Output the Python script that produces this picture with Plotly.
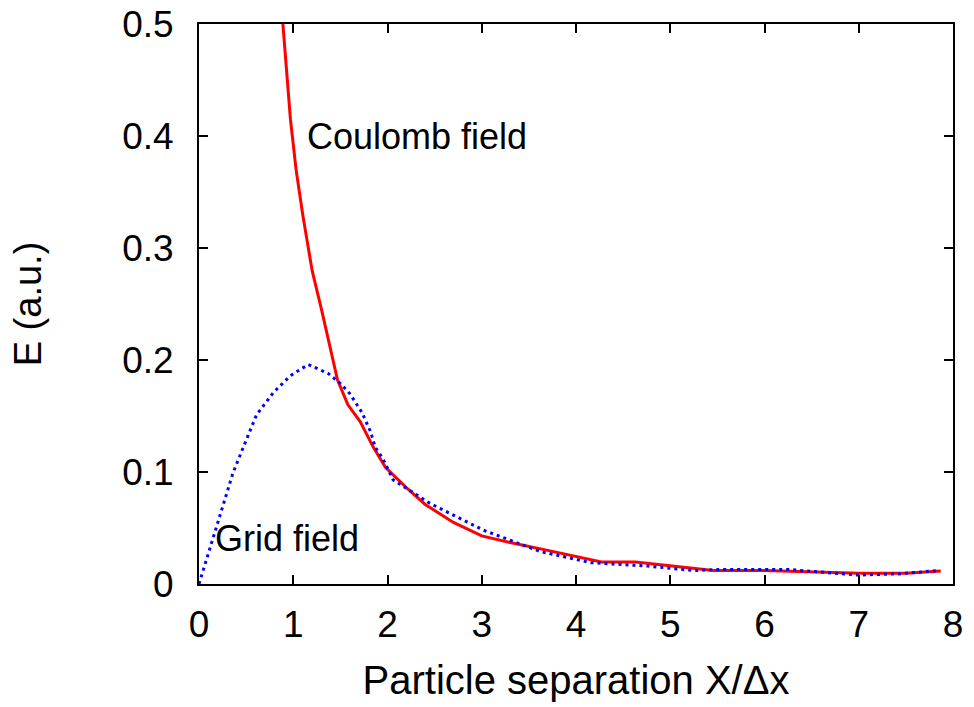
import plotly.graph_objects as go

# Coulomb field (red, solid)
coulomb_x = [0.89, 0.97, 1.03, 1.10, 1.20, 1.30, 1.47, 1.58, 1.71, 1.85, 1.98,
             2.20, 2.40, 2.70, 3.00, 3.30, 3.70, 4.27, 4.63, 5.00, 5.46, 6.00,
             6.50, 7.00, 7.50, 7.87]
coulomb_y = [0.500, 0.415, 0.370, 0.330, 0.280, 0.245, 0.182, 0.160, 0.145, 0.122, 0.104,
             0.086, 0.071, 0.055, 0.043, 0.037, 0.030, 0.0196, 0.0196, 0.016, 0.012, 0.012,
             0.011, 0.0095, 0.0095, 0.0115]

# Grid field (blue, dotted)
grid_x = [0.0, 0.12, 0.24, 0.36, 0.46, 0.61, 0.79, 0.97, 1.16, 1.37, 1.50, 1.60,
          1.73, 1.82, 1.87, 1.95, 2.06, 2.45, 3.02, 3.62, 4.16, 4.76, 5.25, 5.54,
          6.25, 6.99, 7.42, 7.84]
grid_y = [0.0, 0.033, 0.066, 0.099, 0.120, 0.151, 0.171, 0.186, 0.196, 0.188, 0.179, 0.170,
          0.153, 0.136, 0.122, 0.112, 0.093, 0.072, 0.048, 0.029, 0.019, 0.016, 0.012, 0.013,
          0.013, 0.008, 0.009, 0.012]

x_ticks = [0, 1, 2, 3, 4, 5, 6, 7, 8]
y_ticks = [0, 0.1, 0.2, 0.3, 0.4, 0.5]
y_tick_text = ["0", "0.1", "0.2", "0.3", "0.4", "0.5"]

FONT = "Liberation Sans, Arial, sans-serif"

fig = go.Figure()
fig.add_trace(go.Scatter(x=coulomb_x, y=coulomb_y, mode="lines",
                         line=dict(color="#ff0000", width=3), name="Coulomb field",
                         showlegend=False))
fig.add_trace(go.Scatter(x=grid_x, y=grid_y, mode="lines",
                         line=dict(color="#0000ff", width=3, dash="3px,4px"),
                         name="Grid field", showlegend=False))

fig.add_annotation(x=1.12, y=0.4, text="Coulomb field", showarrow=False,
                   xanchor="left", yanchor="middle", font=dict(size=36, color="black", family=FONT))
fig.add_annotation(x=0.15, y=0.041, text="Grid field", showarrow=False,
                   xanchor="left", yanchor="middle", font=dict(size=36, color="black", family=FONT))

axis_common = dict(showgrid=False, zeroline=False, showline=True, linecolor="black",
                   linewidth=2, mirror="allticks", ticks="inside", ticklen=9,
                   tickwidth=1.5, tickcolor="black", automargin=False,
                   tickfont=dict(size=37, color="black", family=FONT))

fig.update_xaxes(range=[0, 8], tickvals=x_ticks, ticktext=[str(t) for t in x_ticks],
                 title=dict(text="Particle separation X/Δx", font=dict(size=40, color="black", family=FONT),
                            standoff=22),
                 ticklabelstandoff=7, **axis_common)
fig.update_yaxes(range=[0, 0.5], tickvals=y_ticks, ticktext=y_tick_text,
                 title=dict(text="E (a.u.)", font=dict(size=38, color="black", family=FONT),
                            standoff=69),
                 ticklabelstandoff=16, **axis_common)

fig.update_layout(width=974, height=707, paper_bgcolor="white", plot_bgcolor="white",
                  margin=dict(l=199, r=21, t=24, b=123), showlegend=False,
                  font=dict(family=FONT, color="black"))

fig.write_html("out.html")
